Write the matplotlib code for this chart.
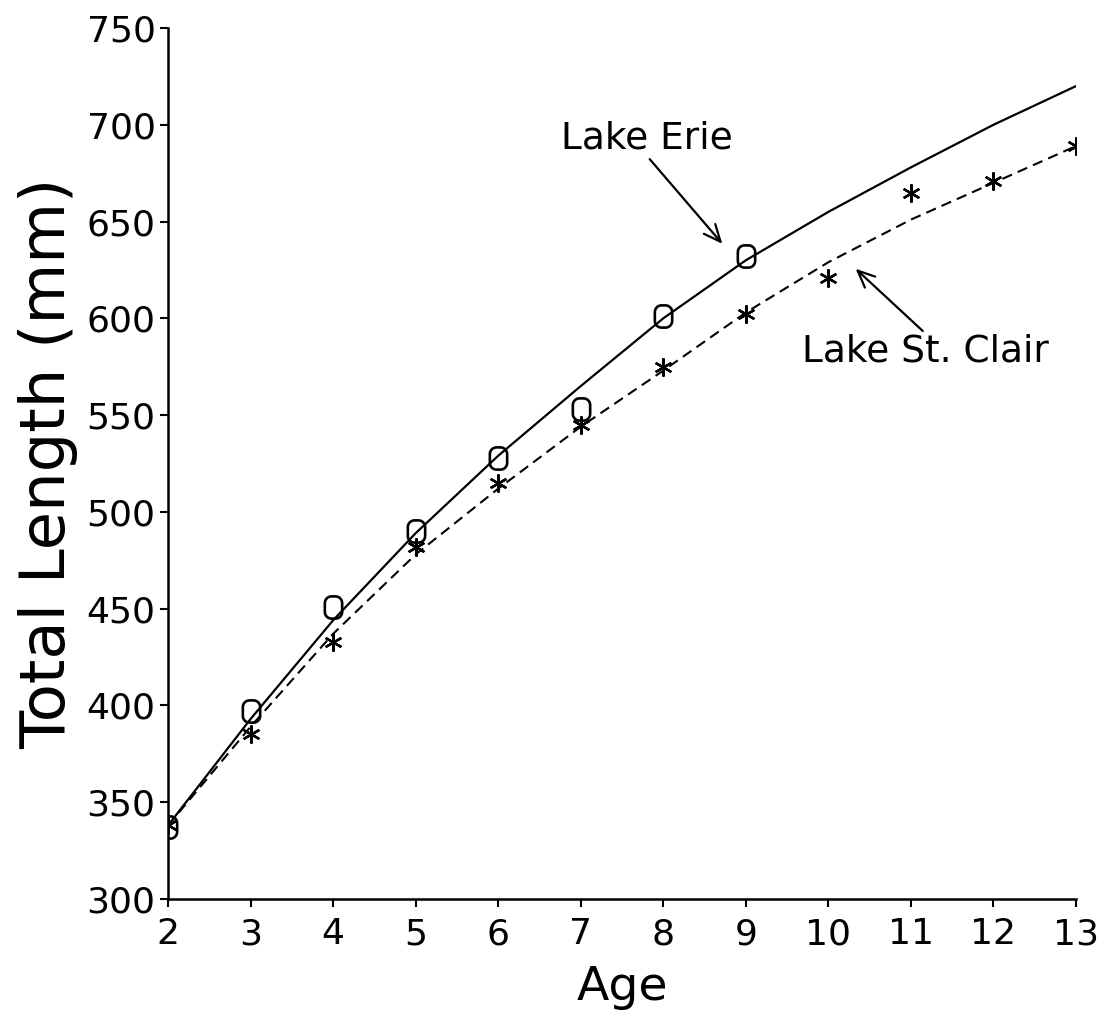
import numpy as np
import matplotlib
matplotlib.use("Agg")
import matplotlib.pyplot as plt
from matplotlib.path import Path

# ---- data ----
fit_ages = [2, 3, 4, 5, 6, 7, 8, 9, 10, 11, 12, 13]
erie_fit = [338, 393, 444, 489, 529, 565, 600, 630, 655, 678, 700, 720]
stclair_fit = [338, 389, 437, 478, 512, 544, 573, 603, 629, 651, 670, 689]

erie_ages = [2, 3, 4, 5, 6, 7, 8, 9]
erie_obs = [337, 397, 451, 490, 528, 553, 601, 632]

stclair_ages = [2, 3, 4, 5, 6, 7, 8, 9, 10, 11, 12, 13]
stclair_obs = [338, 385, 433, 482, 515, 545, 575, 602, 621, 665, 671, 689]

x_ticks = list(range(2, 14))
y_ticks = [300, 350, 400, 450, 500, 550, 600, 650, 700, 750]

# ---- marker shape: a rounded-rectangle "0" ----
def rounded_rect_path(w=0.78, h=1.0, r=0.3, n=8):
    hw, hh = w / 2.0, h / 2.0
    centers = [(hw - r, hh - r, 0.0), (-hw + r, hh - r, np.pi / 2),
               (-hw + r, -hh + r, np.pi), (hw - r, -hh + r, 1.5 * np.pi)]
    verts = []
    for cx, cy, a0 in centers:
        for t in np.linspace(a0, a0 + np.pi / 2, n):
            verts.append((cx + r * np.cos(t), cy + r * np.sin(t)))
    verts.append(verts[0])
    codes = [Path.MOVETO] + [Path.LINETO] * (len(verts) - 2) + [Path.CLOSEPOLY]
    return Path(verts, codes)

zero_marker = rounded_rect_path()

plt.rcParams['font.family'] = ['DejaVu Sans']
fig = plt.figure(figsize=(11.10, 10.22), dpi=100)
ax = fig.add_axes([0.1514, 0.1204, 0.8180, 0.8522])

ax.plot(fit_ages, erie_fit, color='black', lw=1.6, solid_capstyle='round')
ax.plot(fit_ages, stclair_fit, color='black', lw=1.5, linestyle=(0, (5, 3)))

ax.plot(erie_ages, erie_obs, linestyle='none', marker=zero_marker, markersize=16,
        markerfacecolor='none', markeredgecolor='black', markeredgewidth=1.9)
ax.plot(stclair_ages, stclair_obs, linestyle='none', marker=(6, 2, 0), markersize=13,
        markeredgecolor='black', markeredgewidth=1.7, color='black')

ax.set_xlim(2, 13)
ax.set_ylim(300, 750)
ax.set_xticks(x_ticks)
ax.set_yticks(y_ticks)
ax.set_xticklabels([str(v) for v in x_ticks])
ax.set_yticklabels([str(v) for v in y_ticks])

for s in ['top', 'right']:
    ax.spines[s].set_visible(False)
for s in ['left', 'bottom']:
    ax.spines[s].set_linewidth(1.8)

ax.tick_params(axis='both', direction='out', length=6, width=1.5, labelsize=26)
ax.tick_params(axis='x', pad=7)
ax.tick_params(axis='y', pad=3)
ax.set_xlabel('Age', fontsize=34, labelpad=10)
ax.set_ylabel('Total Length (mm)', fontsize=45, labelpad=6)

arrow = dict(arrowstyle='->,head_length=0.45,head_width=0.2', color='black', lw=1.6,
             shrinkA=0, shrinkB=0)
ax.annotate('Lake Erie', xy=(8.715, 638.5), xytext=(7.806, 693),
            fontsize=27, ha='center', va='center',
            arrowprops=dict(arrow, relpos=(0.5, 0.0)))
ax.annotate('Lake St. Clair', xy=(10.33, 625.6), xytext=(11.18, 582.7),
            fontsize=27, ha='center', va='center',
            arrowprops=dict(arrow, relpos=(0.5, 1.0)))

fig.savefig('out.png', dpi=100, facecolor='white')
